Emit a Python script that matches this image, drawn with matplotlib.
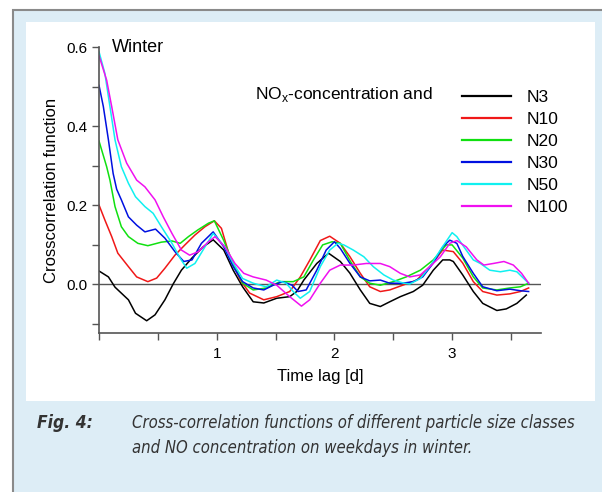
import numpy as np
import matplotlib.pyplot as plt
from matplotlib.patches import Rectangle
from matplotlib.lines import Line2D

plt.rcParams['font.family'] = ['Liberation Sans', 'DejaVu Sans']

# time lag [d] and crosscorrelation values per size class
t_n3 = [0.0, 0.08, 0.136, 0.25, 0.31, 0.405, 0.476, 0.56, 0.63, 0.70, 0.79, 0.885, 0.97, 1.06, 1.14,
        1.22, 1.31, 1.40, 1.51, 1.62, 1.68, 1.74, 1.85, 1.95, 2.05, 2.13, 2.22, 2.30, 2.39, 2.47, 2.56,
        2.67, 2.75, 2.84, 2.92, 2.98, 3.01, 3.09, 3.18, 3.26, 3.38, 3.46, 3.55, 3.63]
v_n3 = [0.033, 0.018, -0.008, -0.040, -0.074, -0.093, -0.078, -0.040, 0.0, 0.035, 0.066, 0.094, 0.112, 0.086, 0.035,
        -0.007, -0.045, -0.048, -0.036, -0.032, -0.019, 0.010, 0.052, 0.078, 0.057, 0.028, -0.015, -0.049, -0.057, -0.045, -0.032,
        -0.019, -0.003, 0.035, 0.061, 0.061, 0.057, 0.023, -0.019, -0.049, -0.067, -0.063, -0.049, -0.028]

t_n10 = [0.0, 0.05, 0.108, 0.16, 0.25, 0.32, 0.415, 0.49, 0.56, 0.645, 0.73, 0.815, 0.90, 0.98, 1.04, 1.11,
         1.20, 1.28, 1.40, 1.51, 1.62, 1.71, 1.79, 1.88, 1.96, 2.05, 2.13, 2.22, 2.30, 2.39, 2.47, 2.58,
         2.70, 2.81, 2.92, 3.01, 3.09, 3.18, 3.26, 3.38, 3.49, 3.58, 3.65]
v_n10 = [0.200, 0.162, 0.120, 0.078, 0.044, 0.018, 0.006, 0.015, 0.040, 0.073, 0.099, 0.124, 0.145, 0.160, 0.141, 0.070,
         0.010, -0.023, -0.040, -0.032, -0.019, 0.018, 0.060, 0.110, 0.121, 0.103, 0.070, 0.027, -0.007, -0.019, -0.015, -0.003,
         0.010, 0.044, 0.086, 0.082, 0.053, 0.006, -0.019, -0.028, -0.025, -0.019, -0.010]

t_n20 = [0.0, 0.065, 0.093, 0.136, 0.19, 0.25, 0.33, 0.415, 0.53, 0.62, 0.69, 0.76, 0.84, 0.93, 0.98, 1.06,
         1.14, 1.22, 1.31, 1.42, 1.54, 1.65, 1.74, 1.82, 1.90, 1.98, 2.05, 2.13, 2.22, 2.30, 2.39, 2.50,
         2.61, 2.73, 2.84, 2.95, 3.0, 3.09, 3.18, 3.26, 3.38, 3.49, 3.58, 3.65]
v_n20 = [0.362, 0.297, 0.263, 0.196, 0.145, 0.120, 0.103, 0.097, 0.106, 0.109, 0.103, 0.120, 0.137, 0.154, 0.160, 0.110,
         0.052, 0.002, -0.015, -0.010, 0.006, 0.006, 0.018, 0.060, 0.099, 0.107, 0.103, 0.060, 0.018, 0.002, -0.003, 0.006,
         0.018, 0.035, 0.061, 0.099, 0.099, 0.066, 0.018, -0.010, -0.015, -0.010, -0.007, 0.002]

t_n30 = [0.0, 0.037, 0.08, 0.12, 0.15, 0.19, 0.25, 0.32, 0.39, 0.48, 0.56, 0.645, 0.72, 0.79, 0.87, 0.97,
         1.06, 1.14, 1.22, 1.31, 1.40, 1.48, 1.56, 1.64, 1.69, 1.76, 1.85, 1.93, 2.0, 2.05, 2.13, 2.22,
         2.30, 2.39, 2.47, 2.58, 2.67, 2.75, 2.84, 2.92, 2.98, 3.04, 3.09, 3.18, 3.26, 3.38, 3.49, 3.58, 3.65]
v_n30 = [0.503, 0.449, 0.365, 0.280, 0.240, 0.213, 0.170, 0.149, 0.132, 0.139, 0.116, 0.082, 0.057, 0.061, 0.103, 0.132,
         0.094, 0.044, 0.006, -0.010, -0.015, -0.003, 0.006, -0.003, -0.019, -0.015, 0.035, 0.086, 0.107, 0.090, 0.053, 0.018,
         0.008, 0.010, 0.002, 0.002, 0.006, 0.018, 0.053, 0.094, 0.111, 0.103, 0.070, 0.027, -0.007, -0.017, -0.013, -0.017, -0.019]

t_n50 = [0.0, 0.05, 0.093, 0.136, 0.19, 0.25, 0.31, 0.39, 0.46, 0.53, 0.62, 0.69, 0.745, 0.815, 0.90, 0.97,
         1.07, 1.14, 1.22, 1.31, 1.42, 1.51, 1.59, 1.65, 1.71, 1.79, 1.88, 1.96, 2.03, 2.08, 2.16, 2.25,
         2.33, 2.42, 2.50, 2.59, 2.64, 2.73, 2.81, 2.90, 3.0, 3.04, 3.10, 3.18, 3.24, 3.32, 3.41, 3.49,
         3.55, 3.65]
v_n50 = [0.588, 0.533, 0.449, 0.365, 0.297, 0.255, 0.221, 0.196, 0.179, 0.145, 0.103, 0.065, 0.040, 0.052, 0.094, 0.128,
         0.094, 0.053, 0.014, 0.002, -0.007, 0.010, 0.002, -0.019, -0.036, -0.019, 0.044, 0.086, 0.103, 0.099, 0.086, 0.069,
         0.044, 0.023, 0.010, 0.002, 0.0, 0.014, 0.044, 0.086, 0.130, 0.120, 0.094, 0.061, 0.052, 0.035, 0.031, 0.035,
         0.031, 0.002]

t_n100 = [0.0, 0.065, 0.108, 0.16, 0.235, 0.32, 0.39, 0.476, 0.546, 0.62, 0.70, 0.77, 0.845, 0.93, 0.986, 1.07,
          1.155, 1.23, 1.31, 1.42, 1.51, 1.62, 1.72, 1.79, 1.88, 1.96, 2.05, 2.16, 2.27, 2.39, 2.47, 2.56,
          2.64, 2.73, 2.81, 2.90, 2.98, 3.04, 3.12, 3.21, 3.27, 3.35, 3.44, 3.52, 3.59, 3.65]
v_n100 = [0.578, 0.516, 0.449, 0.365, 0.306, 0.263, 0.246, 0.213, 0.170, 0.128, 0.086, 0.073, 0.082, 0.107, 0.120, 0.094,
          0.052, 0.027, 0.018, 0.010, -0.003, -0.032, -0.056, -0.040, 0.002, 0.035, 0.048, 0.048, 0.052, 0.052, 0.044, 0.027,
          0.018, 0.023, 0.044, 0.069, 0.103, 0.110, 0.094, 0.061, 0.048, 0.052, 0.057, 0.048, 0.027, 0.002]

labels = ['N3', 'N10', 'N20', 'N30', 'N50', 'N100']
colors = ['#000000', '#f01818', '#10e010', '#0010e0', '#10f0f0', '#f010f0']
series = [(t_n3, v_n3), (t_n10, v_n10), (t_n20, v_n20), (t_n30, v_n30), (t_n50, v_n50), (t_n100, v_n100)]

W, H = 602, 492
fig = plt.figure(figsize=(W / 100, H / 100), dpi=100)
fig.patch.set_facecolor('white')

def px_rect(x0, y0, x1, y1, **kw):
    # rectangle given in pixel coords measured from the top-left corner
    r = Rectangle((x0 / W, 1 - y1 / H), (x1 - x0) / W, (y1 - y0) / H,
                  transform=fig.transFigure, zorder=-10, **kw)
    fig.patches.append(r)

px_rect(13, 10, 620, 510, facecolor='#ddedf6', edgecolor='#8a8a8a', linewidth=1.5)
px_rect(26, 22, 595, 401, facecolor='white', edgecolor='none')

x0, x1 = 99, 541
y0, y1 = 47, 333
ax = fig.add_axes([x0 / W, 1 - y1 / H, (x1 - x0) / W, (y1 - y0) / H])
ax.set_facecolor('none')
ax.set_zorder(5)

for (t, v), c, lab in zip(series, colors, labels):
    ax.plot(t, v, color=c, lw=1.1, label=lab)

ax.axhline(0, color='#555555', lw=1.0, zorder=0)

ax.set_xlim(0, 3.755)
ax.set_ylim(-0.124, 0.6)
for s in ['top', 'right']:
    ax.spines[s].set_visible(False)
for s in ['left', 'bottom']:
    ax.spines[s].set_color('#555555')
    ax.spines[s].set_linewidth(1.2)
ax.spines['left'].set_bounds(-0.124, 0.6)

ax.set_xticks([1, 2, 3])
ax.set_xticks([0, 0.5, 1.5, 2.5, 3.5], minor=True)
ax.set_yticks([0.0, 0.2, 0.4, 0.6])
ax.set_yticklabels(['0.0', '0.2', '0.4', '0.6'])
ax.set_yticks([-0.1, 0.1, 0.3, 0.5], minor=True)
ax.tick_params(which='both', direction='out', color='#555555', width=1.0, length=5, labelsize=11)
ax.tick_params(axis='x', pad=5)

ax.set_xlabel('Time lag [d]', fontsize=12, labelpad=6)
ax.set_ylabel('Crosscorrelation function', fontsize=12, labelpad=5)

ax.text(0.11, 0.6, 'Winter', fontsize=13, va='center', ha='left', transform=ax.transData)

fig.text(255 / W, 1 - 95 / H, r'NO$_\mathregular{x}$-concentration and', fontsize=12.5,
         ha='left', va='center')

handles = [Line2D([], [], color=c, lw=1.6) for c in colors]
fig.legend(handles, labels, loc='upper left', bbox_to_anchor=(455 / W, 1 - 83 / H),
           frameon=False, fontsize=12.5, handlelength=2.8, handletextpad=0.9, labelspacing=0.39,
           borderaxespad=0)

cap = dict(color='#333333', va='center', ha='left', style='italic',
           family='DejaVu Sans', fontstretch='condensed')
fig.text(37 / W, 1 - 423 / H, 'Fig. 4:', fontsize=12.5, fontweight='bold', **cap)
fig.text(132 / W, 1 - 423 / H, 'Cross-correlation functions of different particle size classes',
         fontsize=12, **cap)
fig.text(132 / W, 1 - 448 / H, 'and NO concentration on weekdays in winter.', fontsize=12, **cap)

fig.savefig('out.png', dpi=100)
